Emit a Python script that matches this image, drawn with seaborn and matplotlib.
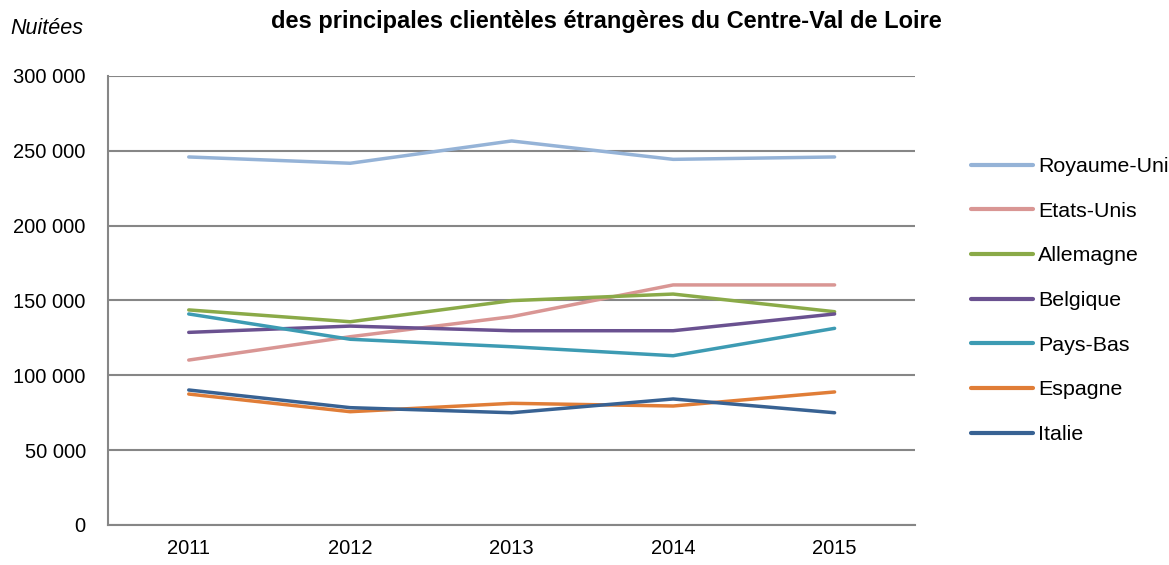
import pandas as pd
import matplotlib
matplotlib.use("Agg")
import matplotlib.pyplot as plt
import seaborn as sns
from matplotlib.ticker import FuncFormatter, FixedLocator

sns.set_style("white")
plt.rcParams['font.family'] = ['Liberation Sans', 'DejaVu Sans']
plt.rcParams['text.color'] = 'black'
plt.rcParams['xtick.labelcolor'] = 'black'
plt.rcParams['ytick.labelcolor'] = 'black'

# données (nuitées)
years = ['2011', '2012', '2013', '2014', '2015']
royaume_uni = [245900, 241700, 256600, 244300, 245900]
etats_unis = [110200, 125800, 139200, 160400, 160400]
allemagne = [143700, 135800, 149900, 154300, 142500]
belgique = [128700, 132900, 129800, 129800, 141000]
pays_bas = [141000, 124100, 119100, 113100, 131400]
espagne = [87500, 75700, 81300, 79500, 88900]
italie = [90200, 78400, 75000, 84200, 75000]

pays = ['Royaume-Uni', 'Etats-Unis', 'Allemagne', 'Belgique', 'Pays-Bas', 'Espagne', 'Italie']
series = [royaume_uni, etats_unis, allemagne, belgique, pays_bas, espagne, italie]
couleurs = ['#95b3d7', '#d99694', '#8aaa48', '#6a5190', '#3d9bb3', '#e07d37', '#386293']

rows = []
for p, vals in zip(pays, series):
    for i, v in enumerate(vals):
        rows.append({'annee': i, 'pays': p, 'nuitees': v})
df = pd.DataFrame(rows)

fig = plt.figure(figsize=(11.69, 5.65), dpi=100)
ax = fig.add_axes([0.0924, 0.0708, 0.6906, 0.7947])

sns.lineplot(data=df, x='annee', y='nuitees', hue='pays', hue_order=pays,
             palette=couleurs, linewidth=2.5, ax=ax, legend=True)

ax.set_xlim(-0.5, 4.5)
ax.set_ylim(0, 300000)
ax.set_xticks(range(len(years)))
ax.set_xticklabels(years)
ax.xaxis.set_minor_locator(FixedLocator([i - 0.5 for i in range(len(years) + 1)]))
ax.tick_params(axis='x', which='major', length=0, pad=10, labelsize=14.5)
ax.tick_params(axis='x', which='minor', length=5, width=1.5, color='#868686', direction='out')
ax.set_yticks(range(0, 300001, 50000))
ax.yaxis.set_major_formatter(FuncFormatter(lambda v, _: f"{int(v):,}".replace(',', ' ')))
ax.tick_params(axis='y', length=5, width=1.5, color='#868686', direction='out', labelsize=14.5, pad=11)
ax.grid(axis='y', color='#868686', linewidth=1.5)
ax.set_axisbelow(True)
for s in ['top', 'right']:
    ax.spines[s].set_visible(False)
for s in ['left', 'bottom']:
    ax.spines[s].set_color('#868686')
    ax.spines[s].set_linewidth(1.5)
ax.set_xlabel('')
ax.set_ylabel('')

leg = ax.legend(loc='center left', bbox_to_anchor=(1.045, 0.50), frameon=False,
                fontsize=15.4, handlelength=2.9, handletextpad=0.25, labelspacing=1.2)
for line in leg.get_lines():
    line.set_linewidth(3)

fig.text(0.519, 0.962, "des principales clientèles étrangères du Centre-Val de Loire",
         ha='center', va='center', fontsize=17, fontweight='bold')
fig.text(0.009, 0.95, "Nuitées", ha='left', va='center', fontsize=15.5, style='italic')

fig.savefig('out.png', dpi=100)
